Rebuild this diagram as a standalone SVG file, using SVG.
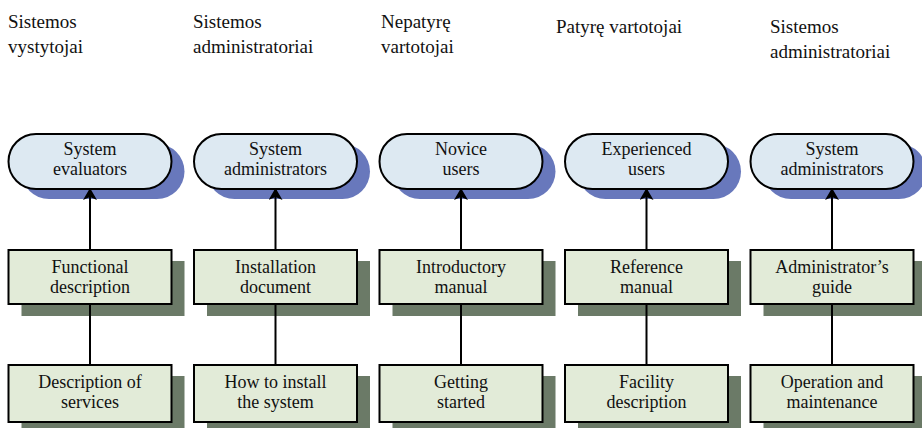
<svg xmlns="http://www.w3.org/2000/svg" width="922" height="428" viewBox="0 0 922 428">
<style>
text{font-family:'Liberation Serif','Times New Roman','DejaVu Serif',serif}
.hdr{font-size:19px;fill:#111}
.lbl{font-size:18px;fill:#111;text-anchor:middle}
.pill{fill:#dde9f2;stroke:#000;stroke-width:2}
.pshadow{fill:#6878bc}
.box{fill:#e2ebd8;stroke:#000;stroke-width:2}
.bshadow{fill:#6b7a67}
.conn{stroke:#000;stroke-width:2;fill:none}
</style>
<defs>
<marker id="arr" markerWidth="12" markerHeight="14" viewBox="0 0 12 14" refX="11" refY="7" orient="auto" markerUnits="userSpaceOnUse">
<path d="M0,0 L12,7 L0,14 L3,7 z" fill="#000"/>
</marker>
</defs>
<g id="headers" font-family="Liberation Serif, serif">
<text class="hdr" x="8" y="28">Sistemos</text>
<text class="hdr" x="8" y="53">vystytojai</text>
<text class="hdr" x="193" y="28">Sistemos</text>
<text class="hdr" x="193" y="53">administratoriai</text>
<text class="hdr" x="381" y="28">Nepatyrę</text>
<text class="hdr" x="381" y="53">vartotojai</text>
<text class="hdr" x="556" y="33">Patyrę vartotojai</text>
<text class="hdr" x="770" y="33">Sistemos</text>
<text class="hdr" x="770" y="58">administratoriai</text>
</g>

<g id="n1a"><rect class="pshadow" x="21.5" y="144" width="163" height="55" rx="27.5"/><rect class="pill" x="8.5" y="134" width="163" height="55" rx="27.5"/><text class="lbl" x="90" y="155">System</text><text class="lbl" x="90" y="175">evaluators</text></g>
<g id="n1b"><rect class="bshadow" x="21.5" y="261" width="163" height="55"/><rect class="box" x="8.5" y="250" width="163" height="54"/><text class="lbl" x="90" y="273">Functional</text><text class="lbl" x="90" y="293">description</text></g>
<g id="n1c"><rect class="bshadow" x="21.5" y="376" width="163" height="57"/><rect class="box" x="8.5" y="365" width="163" height="57"/><text class="lbl" x="90" y="388">Description of</text><text class="lbl" x="90" y="408">services</text></g>

<g id="n2a"><rect class="pshadow" x="207" y="144" width="163" height="55" rx="27.5"/><rect class="pill" x="194" y="134" width="163" height="55" rx="27.5"/><text class="lbl" x="275.5" y="155">System</text><text class="lbl" x="275.5" y="175">administrators</text></g>
<g id="n2b"><rect class="bshadow" x="207" y="261" width="163" height="55"/><rect class="box" x="194" y="250" width="163" height="54"/><text class="lbl" x="275.5" y="273">Installation</text><text class="lbl" x="275.5" y="293">document</text></g>
<g id="n2c"><rect class="bshadow" x="207" y="376" width="163" height="57"/><rect class="box" x="194" y="365" width="163" height="57"/><text class="lbl" x="275.5" y="388">How to install</text><text class="lbl" x="275.5" y="408">the system</text></g>

<g id="n3a"><rect class="pshadow" x="392.5" y="144" width="163" height="55" rx="27.5"/><rect class="pill" x="379.5" y="134" width="163" height="55" rx="27.5"/><text class="lbl" x="461" y="155">Novice</text><text class="lbl" x="461" y="175">users</text></g>
<g id="n3b"><rect class="bshadow" x="392.5" y="261" width="163" height="55"/><rect class="box" x="379.5" y="250" width="163" height="54"/><text class="lbl" x="461" y="273">Introductory</text><text class="lbl" x="461" y="293">manual</text></g>
<g id="n3c"><rect class="bshadow" x="392.5" y="376" width="163" height="57"/><rect class="box" x="379.5" y="365" width="163" height="57"/><text class="lbl" x="461" y="388">Getting</text><text class="lbl" x="461" y="408">started</text></g>

<g id="n4a"><rect class="pshadow" x="578" y="144" width="163" height="55" rx="27.5"/><rect class="pill" x="565" y="134" width="163" height="55" rx="27.5"/><text class="lbl" x="646.5" y="155">Experienced</text><text class="lbl" x="646.5" y="175">users</text></g>
<g id="n4b"><rect class="bshadow" x="578" y="261" width="163" height="55"/><rect class="box" x="565" y="250" width="163" height="54"/><text class="lbl" x="646.5" y="273">Reference</text><text class="lbl" x="646.5" y="293">manual</text></g>
<g id="n4c"><rect class="bshadow" x="578" y="376" width="163" height="57"/><rect class="box" x="565" y="365" width="163" height="57"/><text class="lbl" x="646.5" y="388">Facility</text><text class="lbl" x="646.5" y="408">description</text></g>

<g id="n5a"><rect class="pshadow" x="763.5" y="144" width="163" height="55" rx="27.5"/><rect class="pill" x="750.5" y="134" width="163" height="55" rx="27.5"/><text class="lbl" x="832" y="155">System</text><text class="lbl" x="832" y="175">administrators</text></g>
<g id="n5b"><rect class="bshadow" x="763.5" y="261" width="163" height="55"/><rect class="box" x="750.5" y="250" width="163" height="54"/><text class="lbl" x="832" y="273">Administrator’s</text><text class="lbl" x="832" y="293">guide</text></g>
<g id="n5c"><rect class="bshadow" x="763.5" y="376" width="163" height="57"/><rect class="box" x="750.5" y="365" width="163" height="57"/><text class="lbl" x="832" y="388">Operation and</text><text class="lbl" x="832" y="408">maintenance</text></g>

<g id="connectors">
<line class="conn" x1="90" y1="249" x2="90" y2="189" marker-end="url(#arr)"/>
<line class="conn" x1="90" y1="364" x2="90" y2="305"/>
<line class="conn" x1="275.5" y1="249" x2="275.5" y2="189" marker-end="url(#arr)"/>
<line class="conn" x1="275.5" y1="364" x2="275.5" y2="305"/>
<line class="conn" x1="461" y1="249" x2="461" y2="189" marker-end="url(#arr)"/>
<line class="conn" x1="461" y1="364" x2="461" y2="305"/>
<line class="conn" x1="646.5" y1="249" x2="646.5" y2="189" marker-end="url(#arr)"/>
<line class="conn" x1="646.5" y1="364" x2="646.5" y2="305"/>
<line class="conn" x1="832" y1="249" x2="832" y2="189" marker-end="url(#arr)"/>
<line class="conn" x1="832" y1="364" x2="832" y2="305"/>
</g>
</svg>
